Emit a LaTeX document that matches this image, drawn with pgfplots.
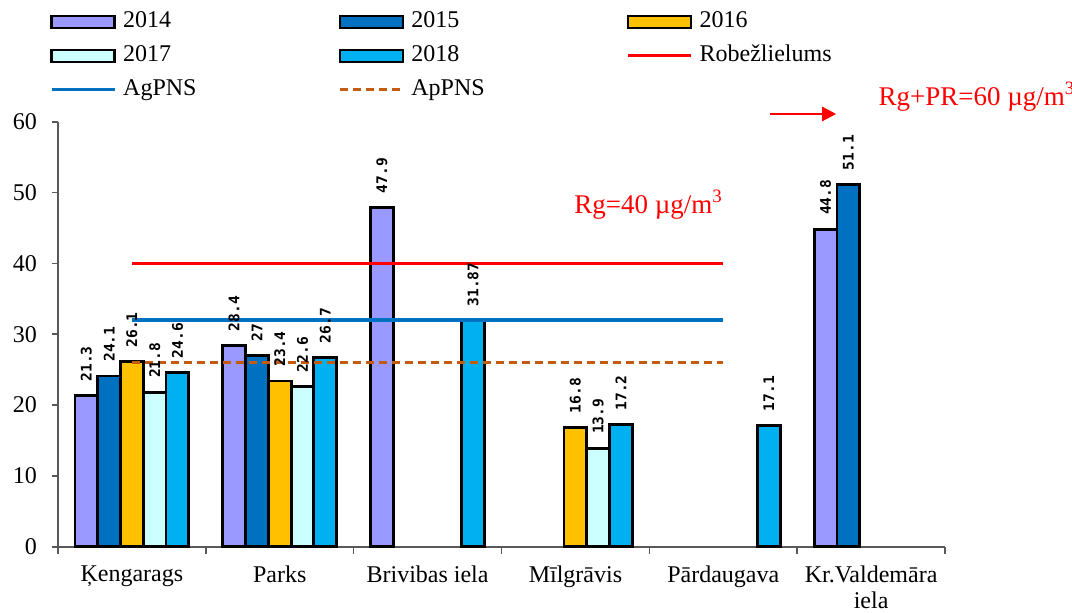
\documentclass[border=0pt]{standalone}
\usepackage{fontspec}
\setmainfont{Liberation Serif}
\newfontfamily\labelfont{DejaVu Sans Mono}
\usepackage{pgfplots}
\pgfplotsset{compat=1.18}
\usetikzlibrary{arrows.meta}

\definecolor{c2014}{HTML}{9999FF}
\definecolor{c2015}{HTML}{0070C0}
\definecolor{c2016}{HTML}{FFC000}
\definecolor{c2017}{HTML}{CCFFFF}
\definecolor{c2018}{HTML}{00B0F0}
\definecolor{limred}{HTML}{FF0000}
\definecolor{agblue}{HTML}{0070C0}
\definecolor{aporange}{HTML}{C55A11}

\newcommand{\leg}[1]{\makebox[111pt][l]{\hspace*{3.5pt}#1}}

\pgfplotsset{
  barleg/.style={legend image code/.code={\draw[##1, line width=1.2pt] (0pt,-3pt) rectangle (31.5pt,3pt);}},
  lineleg/.style={legend image code/.code={\draw[##1] (0pt,0pt) -- (31.5pt,0pt);}},
  % #1 = shift in axis units, #2 = same shift in pt (for the labels), #3 = fill
  mybar/.style n args={3}{ybar, bar width=0.154, bar shift=#1, fill=#3, draw=black,
    line width=1.4pt, barleg,
    nodes near coords={\rotatebox{90}{\pgfmathprintnumber{\pgfplotspointmeta}}},
    every node near coord/.style={anchor=south, text=black, xshift=#2,
      font=\labelfont\bfseries\fontsize{7.3}{8}\selectfont, inner ysep=6.5pt, inner xsep=0pt}},
}

\begin{document}
\begin{tikzpicture}
\path[use as bounding box] (-29pt,-32.65pt) rectangle (507pt,273.35pt);
\begin{axis}[
    at={(0pt,0pt)}, anchor=south west,
    scale only axis, width=443.5pt, height=212.5pt,
    xmin=-0.5, xmax=5.5, ymin=0, ymax=60,
    clip=false,
    axis x line=bottom, axis y line=left,
    axis line style={-, black!65, line width=0.8pt},
    tick style={black!65, line width=0.8pt},
    tick align=outside,
    major tick length=3pt, minor tick length=3.5pt,
    xtick={0,...,5},
    xticklabels={Ķengarags, Parks, Brivibas iela, Mīlgrāvis, Pārdaugava, Kr.Valdemāra\\iela},
    major x tick style={draw=none},
    minor xtick={-0.5,0.5,...,5.5},
    ytick={0,10,...,60},
    /pgf/number format/assume math mode=true,
    ticklabel style={font=\fontsize{12}{13}\selectfont},
    yticklabel style={xshift=-4pt},
    xticklabel style={align=center, yshift=-3pt},
    legend columns=3,
    legend cell align=left,
    legend style={draw=none, fill=none, at={(axis description cs:-0.009,1.268)},
      anchor=north west, inner sep=0pt, outer sep=0pt, column sep=0pt, row sep=3pt,
      font=\fontsize{12}{14}\selectfont,
      nodes={inner xsep=0pt, inner ysep=1pt, text height=9pt, text depth=3pt}},
]
\addplot[mybar={-0.308}{-22.8pt}{c2014}] coordinates {(0,21.3) (1,28.4) (2,47.9) (5,44.8)};
\addlegendentry{\leg{2014}}
\addplot[mybar={-0.154}{-11.4pt}{c2015}] coordinates {(0,24.1) (1,27) (5,51.1)};
\addlegendentry{\leg{2015}}
\addplot[mybar={0}{0pt}{c2016}] coordinates {(0,26.1) (1,23.4) (3,16.8)};
\addlegendentry{\leg{2016}}
\addplot[mybar={0.154}{11.4pt}{c2017}] coordinates {(0,21.8) (1,22.6) (3,13.9)};
\addlegendentry{\leg{2017}}
\addplot[mybar={0.308}{22.8pt}{c2018}] coordinates {(0,24.6) (1,26.7) (2,31.87) (3,17.2) (4,17.1)};
\addlegendentry{\leg{2018}}
\addplot[limred, line width=1.6pt, lineleg] coordinates {(0,40) (4,40)};
\addlegendentry{\leg{Robežlielums}}
\addplot[agblue, line width=1.6pt, lineleg] coordinates {(0,32) (4,32)};
\addlegendentry{\leg{AgPNS}}
\addplot[aporange, line width=1.6pt, dash pattern=on 4pt off 2.5pt, lineleg] coordinates {(0,26) (4,26)};
\addlegendentry{\leg{ApPNS}}

\node[anchor=base east, inner sep=0pt, text=limred, font=\fontsize{13.5}{15}\selectfont]
  at (axis cs:4,47.1) {Rg=40 µg/m\textsuperscript{3}};
\node[anchor=base west, inner sep=0pt, text=limred, font=\fontsize{13.5}{15}\selectfont]
  at (axis cs:5.048,62.3) {Rg+PR=60 µg/m\textsuperscript{3}};
\draw[limred, line width=1.2pt, -{Triangle[length=7pt,width=7pt]}]
  (axis cs:4.317,61.09) -- (axis cs:4.764,61.09);
\end{axis}
\end{tikzpicture}
\end{document}
